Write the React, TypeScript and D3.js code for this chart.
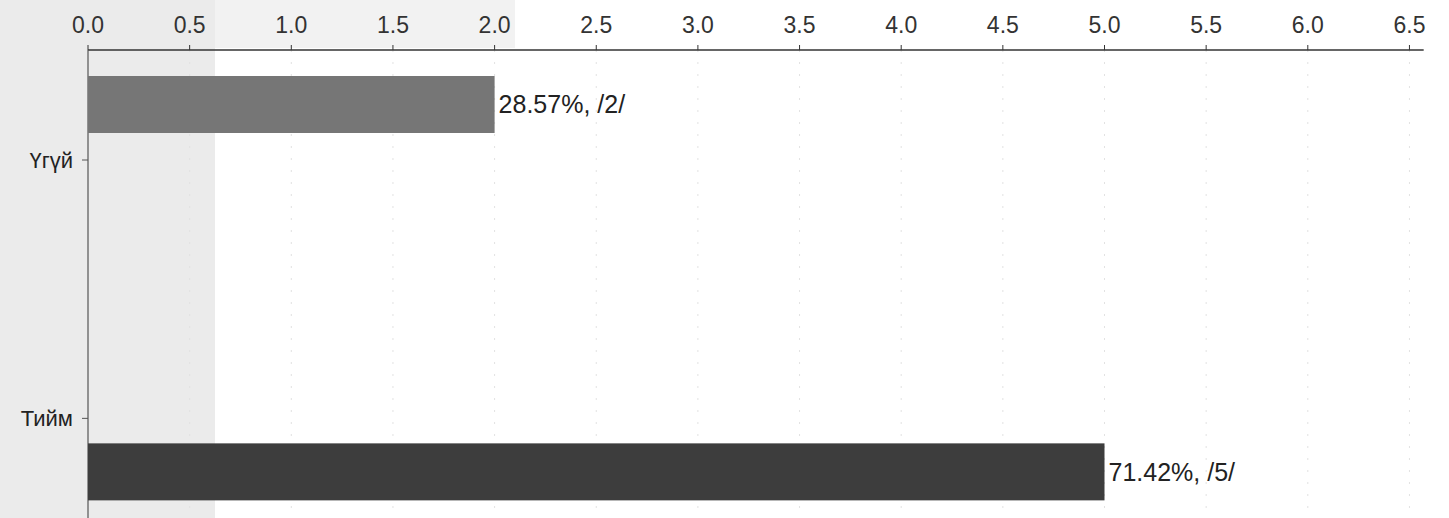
import { useMemo } from 'react';
import { scaleLinear, scaleBand, range as d3range } from 'd3';

const CATEGORIES = ['Үгүй', 'Тийм'];
const VALUES = [2, 5];
const BAR_LABELS = ['28.57%, /2/', '71.42%, /5/'];
const X_TICKS = d3range(0, 6.51, 0.5);
const BAR_COLORS = ['#767676', '#3d3d3d'];

const W = 1449;
const H = 518;
const M = { top: 50, right: 26, bottom: 0, left: 88 };

export default function App() {
  const { x, y } = useMemo(() => {
    const x = scaleLinear().domain([0, 6.57]).range([M.left, M.left + 6.57 * 203.3]);
    const y = scaleBand<string>().domain(CATEGORIES).range([M.top, H + 40]).paddingInner(0.1);
    return { x, y };
  }, []);

  const bw = 57;
  // bars and category ticks are offset within their bands, as in the source
  const barY = (c: string) => y(c)! + (c === CATEGORIES[0] ? 26 : 126);
  const tickY = (c: string) => y(c)! + (c === CATEGORIES[0] ? 110 : 101);

  return (
    <svg
      width={W}
      height={H}
      style={{ position: 'absolute', left: 0, top: 0, background: '#fff' }}
      fontFamily="Arial, 'Liberation Sans', sans-serif"
    >
      {/* scanner-grey strip on the left */}
      <rect x={0} y={0} width={215} height={H} fill="#ebebeb" />
      <rect x={215} y={0} width={300} height={M.top - 2} fill="#f2f2f2" />

      {/* faint vertical gridlines */}
      {X_TICKS.slice(1).map((t) => (
        <line
          key={t}
          x1={x(t)}
          x2={x(t)}
          y1={M.top}
          y2={H}
          stroke="#e2e2e2"
          strokeDasharray="2 10"
        />
      ))}

      {/* top axis */}
      <line x1={M.left} x2={x(6.57)} y1={M.top} y2={M.top} stroke="#333" strokeWidth={1.5} />
      {X_TICKS.map((t) => (
        <g key={t}>
          <line x1={x(t)} x2={x(t)} y1={M.top - 5} y2={M.top} stroke="#333" />
          <text x={x(t)} y={M.top - 17} textAnchor="middle" fontSize={23} fill="#333">
            {t.toFixed(1)}
          </text>
        </g>
      ))}

      {/* left axis */}
      <line x1={M.left} x2={M.left} y1={M.top} y2={H} stroke="#555" strokeWidth={1.2} />
      {CATEGORIES.map((c) => (
        <g key={c}>
          <line x1={M.left - 6} x2={M.left} y1={tickY(c)} y2={tickY(c)} stroke="#555" />
          <text x={M.left - 15} y={tickY(c)} dy="0.35em" textAnchor="end" fontSize={22} fill="#222">
            {c}
          </text>
        </g>
      ))}

      {/* bars */}
      {CATEGORIES.map((c, i) => (
        <g key={c}>
          <rect
            x={x(0)}
            y={barY(c)}
            width={x(VALUES[i]) - x(0)}
            height={bw}
            fill={BAR_COLORS[i]}
          />
          <text
            x={x(VALUES[i]) + 4}
            y={barY(c) + bw / 2}
            dy="0.35em"
            fontSize={25}
            fill="#222"
          >
            {BAR_LABELS[i]}
          </text>
        </g>
      ))}
    </svg>
  );
}
